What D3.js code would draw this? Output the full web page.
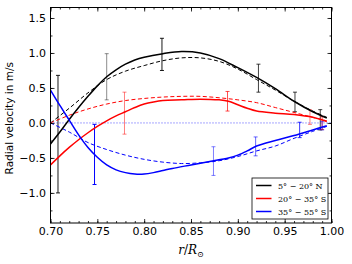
<!DOCTYPE html>
<html>
<head>
<meta charset="utf-8">
<script src="https://cdn.jsdelivr.net/npm/d3@7"></script>
<style>
  body { margin: 0; background: #fff; }
  svg { display: block; }
  .tick text { font-family: "DejaVu Sans", sans-serif; }
</style>
</head>
<body>
<svg id="chart" width="352" height="264"></svg>
<script>
// radius (r/Rsun) and velocity
const blackSolid = [[0.70,-0.30],[0.71,-0.13],[0.72,0.05],[0.73,0.22],[0.74,0.38],[0.75,0.53],[0.76,0.66],[0.77,0.76],[0.78,0.84],[0.79,0.90],[0.80,0.94],[0.82,0.99],[0.84,1.02],[0.86,1.00],[0.88,0.92],[0.90,0.79],[0.92,0.65],[0.94,0.49],[0.96,0.31],[0.98,0.16],[0.995,0.07]];
const blackDashed = [[0.70,0.00],[0.72,0.21],[0.74,0.43],[0.76,0.62],[0.78,0.74],[0.80,0.82],[0.82,0.89],[0.84,0.93],[0.86,0.93],[0.88,0.88],[0.90,0.77],[0.92,0.62],[0.94,0.47],[0.96,0.31],[0.98,0.17],[0.995,0.08]];
const redSolid = [[0.70,-0.60],[0.71,-0.47],[0.72,-0.35],[0.73,-0.24],[0.74,-0.14],[0.75,-0.05],[0.76,0.03],[0.77,0.10],[0.78,0.16],[0.79,0.22],[0.80,0.27],[0.81,0.30],[0.82,0.32],[0.84,0.33],[0.86,0.34],[0.88,0.33],[0.89,0.31],[0.90,0.26],[0.91,0.21],[0.92,0.17],[0.94,0.14],[0.96,0.12],[0.98,0.08],[0.995,0.02]];
const redDashed = [[0.70,0.00],[0.72,0.11],[0.74,0.20],[0.76,0.27],[0.78,0.32],[0.80,0.35],[0.82,0.37],[0.84,0.38],[0.86,0.38],[0.88,0.36],[0.90,0.33],[0.92,0.29],[0.94,0.22],[0.96,0.15],[0.98,0.08],[0.995,0.03]];
const blueSolid = [[0.70,0.47],[0.71,0.25],[0.72,0.04],[0.73,-0.17],[0.74,-0.35],[0.75,-0.49],[0.76,-0.60],[0.77,-0.67],[0.78,-0.71],[0.79,-0.73],[0.80,-0.73],[0.81,-0.71],[0.82,-0.68],[0.83,-0.65],[0.85,-0.60],[0.87,-0.55],[0.89,-0.50],[0.90,-0.46],[0.91,-0.40],[0.92,-0.33],[0.94,-0.25],[0.96,-0.18],[0.98,-0.10],[0.995,-0.04]];
const blueDashed = [[0.70,0.00],[0.72,-0.13],[0.74,-0.28],[0.76,-0.38],[0.78,-0.46],[0.80,-0.52],[0.82,-0.56],[0.84,-0.58],[0.86,-0.57],[0.88,-0.54],[0.90,-0.48],[0.92,-0.40],[0.94,-0.33],[0.96,-0.22],[0.98,-0.12],[0.995,-0.05]];

// error bars: r, centre, half-width, opacity
const blackErr = [[0.708,-0.16,0.84,0.9],[0.760,0.66,0.33,0.45],[0.819,0.98,0.23,0.9],[0.922,0.64,0.20,0.75],[0.961,0.30,0.14,0.75],[0.988,0.045,0.145,0.75]];
const redErr = [[0.779,0.14,0.30,0.5],[0.889,0.31,0.14,0.7],[0.977,0.085,0.105,0.5],[0.990,0.0,0.095,0.7]];
const blueErr = [[0.747,-0.45,0.43,1],[0.874,-0.545,0.205,0.5],[0.919,-0.335,0.135,0.6],[0.966,-0.10,0.11,0.8],[0.990,-0.04,0.06,0.5]];

const legendLabels = ["5° − 20° N", "20° − 35° S", "35° − 55° S"];
const colors = ["#000000", "#ff0000", "#0000ff"];
const xTicks = [0.70,0.75,0.80,0.85,0.90,0.95,1.00];
const yTicks = [-1.0,-0.5,0.0,0.5,1.0,1.5];

const svg = d3.select("#chart");
const margin = {top: 7.5, right: 20.5, bottom: 41, left: 50.5};
const W = 352, H = 264;

const x = d3.scaleLinear().domain([0.70, 1.00]).range([margin.left, W - margin.right]);
const y = d3.scaleLinear().domain([-1.43, 1.65]).range([H - margin.bottom, margin.top]);

const fmt = d => d3.format(".2f")(d);
const fmtY = d => d3.format(".1f")(d).replace("-", "\u2212");

// clip for curves
svg.append("clipPath").attr("id","clip").append("rect")
    .attr("x", margin.left).attr("y", margin.top)
    .attr("width", W - margin.left - margin.right)
    .attr("height", H - margin.top - margin.bottom);

const plot = svg.append("g").attr("clip-path","url(#clip)");

// zero line
plot.append("line")
    .attr("x1", x(0.70)).attr("x2", x(1.00))
    .attr("y1", y(0)).attr("y2", y(0))
    .attr("stroke","#0000ff").attr("stroke-opacity",0.7)
    .attr("stroke-width",1).attr("stroke-dasharray","1,2");

const line = d3.line().x(d => x(d[0])).y(d => y(d[1])).curve(d3.curveCatmullRom);

const series = [
    {data: blackDashed, c: colors[0], dash: "4,2.5", w: 1},
    {data: redDashed, c: colors[1], dash: "4,2.5", w: 1},
    {data: blueDashed, c: colors[2], dash: "4,2.5", w: 1},
    {data: blackSolid, c: colors[0], dash: null, w: 1.5},
    {data: redSolid, c: colors[1], dash: null, w: 1.5},
    {data: blueSolid, c: colors[2], dash: null, w: 1.5}
];

// error bars
[blackErr, redErr, blueErr].forEach((errs, i) => {
    const g = plot.append("g").attr("stroke", colors[i]).attr("stroke-width", 1);
    errs.forEach(e => {
        const eg = g.append("g").attr("stroke-opacity", e[3]);
        const cx = x(e[0]);
        eg.append("line").attr("x1",cx).attr("x2",cx)
            .attr("y1",y(e[1]-e[2])).attr("y2",y(e[1]+e[2]));
        [e[1]-e[2], e[1]+e[2]].forEach(v => {
            eg.append("line").attr("x1",cx-2).attr("x2",cx+2)
                .attr("y1",y(v)).attr("y2",y(v));
        });
    });
});

series.forEach(s => {
    plot.append("path").datum(s.data)
        .attr("d", line)
        .attr("fill","none")
        .attr("stroke", s.c)
        .attr("stroke-width", s.w)
        .attr("stroke-dasharray", s.dash);
});

// axes - ticks inside on all four sides
const xMinor = d3.range(0.70, 1.0001, 0.01);
const yMinor = d3.range(-1.25, 1.6, 0.25);

function styleAxis(g) {
    g.select(".domain").remove();
    g.selectAll(".tick line").attr("stroke","#000").attr("stroke-width",0.8);
}

svg.append("g").attr("transform",`translate(0,${H - margin.bottom})`)
    .call(d3.axisBottom(x).tickValues(xMinor).tickSize(-2).tickFormat(""))
    .call(styleAxis);
svg.append("g").attr("transform",`translate(0,${margin.top})`)
    .call(d3.axisTop(x).tickValues(xMinor).tickSize(-2).tickFormat(""))
    .call(styleAxis);
svg.append("g").attr("transform",`translate(${margin.left},0)`)
    .call(d3.axisLeft(y).tickValues(yMinor).tickSize(-2).tickFormat(""))
    .call(styleAxis);
svg.append("g").attr("transform",`translate(${W - margin.right},0)`)
    .call(d3.axisRight(y).tickValues(yMinor).tickSize(-2).tickFormat(""))
    .call(styleAxis);

const xb = svg.append("g").attr("transform",`translate(0,${H - margin.bottom})`)
    .call(d3.axisBottom(x).tickValues(xTicks).tickSize(-4).tickPadding(4.5).tickFormat(fmt))
    .call(styleAxis);
xb.selectAll("text").attr("font-size", 11).attr("fill","#000");
svg.append("g").attr("transform",`translate(0,${margin.top})`)
    .call(d3.axisTop(x).tickValues(xTicks).tickSize(-4).tickFormat(""))
    .call(styleAxis);
const yl = svg.append("g").attr("transform",`translate(${margin.left},0)`)
    .call(d3.axisLeft(y).tickValues(yTicks).tickSize(-4).tickPadding(4.5).tickFormat(fmtY))
    .call(styleAxis);
yl.selectAll("text").attr("font-size", 11).attr("fill","#000");
svg.append("g").attr("transform",`translate(${W - margin.right},0)`)
    .call(d3.axisRight(y).tickValues(yTicks).tickSize(-4).tickFormat(""))
    .call(styleAxis);

// frame
svg.append("rect")
    .attr("x", margin.left).attr("y", margin.top)
    .attr("width", W - margin.left - margin.right)
    .attr("height", H - margin.top - margin.bottom)
    .attr("fill","none").attr("stroke","#000").attr("stroke-width",1);

// axis labels
svg.append("text")
    .attr("transform", `translate(13,${(margin.top + H - margin.bottom)/2 + 3}) rotate(-90)`)
    .attr("text-anchor","middle")
    .attr("font-family","DejaVu Sans, sans-serif")
    .attr("font-size", 10.5)
    .text("Radial velocity in m/s");

const xl = svg.append("text")
    .attr("x", 191).attr("y", 254)
    .attr("text-anchor","middle")
    .attr("font-family","DejaVu Serif, serif")
    .attr("font-size", 12);
xl.append("tspan").attr("font-style","italic").text("r");
xl.append("tspan").text("/");
xl.append("tspan").attr("font-style","italic").text("R");
xl.append("tspan").attr("font-size", 8).attr("dy", 2.5).text("\u2299");

// legend
const lg = svg.append("g").attr("transform","translate(252,178)");
lg.append("rect").attr("width", 76).attr("height", 41)
    .attr("fill","#fff").attr("stroke","#000").attr("stroke-width",0.8);
legendLabels.forEach((t, i) => {
    const ly = 7.5 + i * 13;
    lg.append("line").attr("x1", 4).attr("x2", 19.5)
        .attr("y1", ly).attr("y2", ly)
        .attr("stroke", colors[i]).attr("stroke-width", 1.5);
    lg.append("text").attr("x", 26).attr("y", ly + 3)
        .attr("font-family","DejaVu Serif, serif")
        .attr("font-size", 8)
        .text(t);
});
</script>
</body>
</html>
